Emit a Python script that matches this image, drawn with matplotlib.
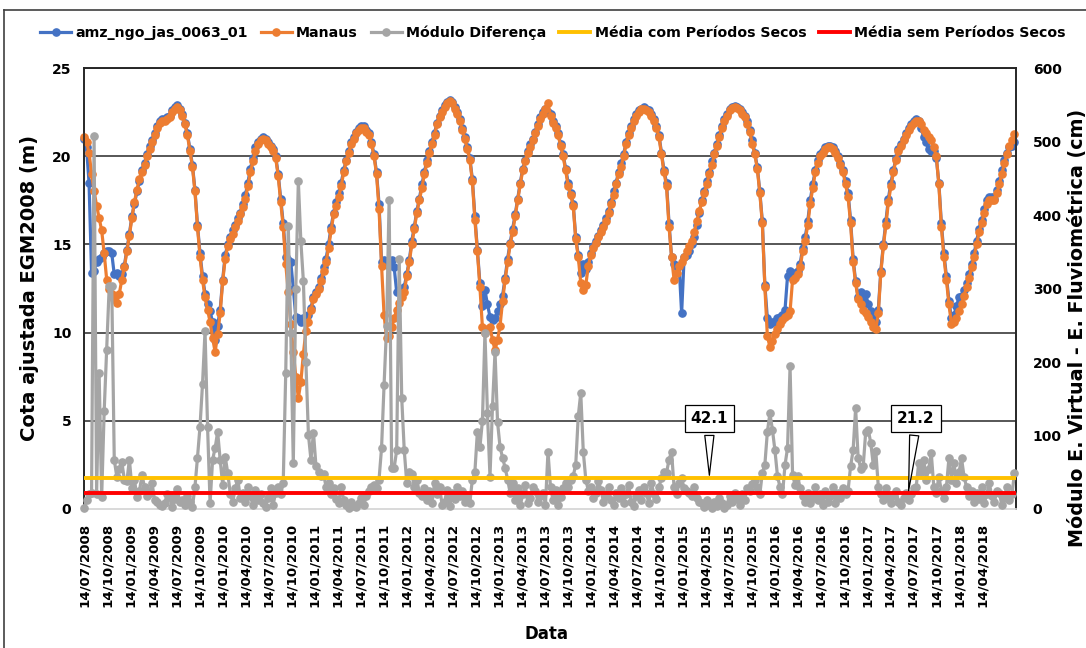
import matplotlib
matplotlib.use("Agg")
import matplotlib.pyplot as plt
from matplotlib.lines import Line2D
import numpy as np
import pandas as pd

# ---------------- data ----------------
start_date = "2008-07-14"   # first sample, ~10-day altimetry cycle
step = "10D"
x_end = "2018-08-27"

manaus = [
    21.1, 20.8, 20.2, 19.0, 18.0, 17.2, 16.5, 15.8, 14.5, 13.0,
    12.5, 12.2, 11.9, 11.7, 12.2, 13.0, 13.7, 14.6, 15.5, 16.5,
    17.4, 18.1, 18.7, 19.1, 19.5, 20.0, 20.4, 20.8, 21.2, 21.6,
    21.9, 22.0, 22.0, 22.1, 22.2, 22.5, 22.7, 22.8, 22.6, 22.3,
    21.8, 21.2, 20.3, 19.4, 18.0, 16.0, 14.3, 13.0, 12.0, 11.3,
    10.6, 9.7, 8.9, 9.9, 11.1, 12.9, 14.2, 14.9, 15.3, 15.6,
    16.0, 16.3, 16.7, 17.1, 17.6, 18.3, 19.1, 19.7, 20.3, 20.7,
    20.9, 21.0, 20.9, 20.7, 20.5, 20.3, 19.9, 18.9, 17.4, 16.0,
    13.9, 12.3, 10.5, 8.9, 7.5, 6.3, 7.2, 8.8, 10.1, 10.6,
    11.3, 11.9, 12.2, 12.5, 12.9, 13.5, 14.0, 14.8, 15.8, 16.7,
    17.2, 17.7, 18.3, 19.1, 19.7, 20.2, 20.7, 21.0, 21.3, 21.5,
    21.6, 21.6, 21.4, 21.2, 20.7, 20.0, 19.0, 17.0, 13.8, 11.0,
    9.7, 9.8, 10.3, 10.8, 11.3, 11.7, 12.0, 12.3, 13.2, 14.0,
    15.0, 15.9, 16.8, 17.5, 18.2, 19.0, 19.6, 20.2, 20.7, 21.2,
    21.8, 22.2, 22.5, 22.8, 23.0, 23.15, 23.0, 22.7, 22.4, 22.0,
    21.5, 21.0, 20.4, 19.8, 18.6, 16.4, 14.6, 12.6, 10.3, 10.0,
    10.2, 10.3, 9.6, 9.0, 9.6, 10.4, 11.8, 13.0, 14.0, 15.0,
    15.7, 16.6, 17.5, 18.4, 19.2, 19.7, 20.2, 20.5, 20.9, 21.3,
    21.7, 22.1, 22.4, 22.7, 23.0, 22.3, 21.9, 21.6, 21.2, 20.6,
    20.0, 19.2, 18.3, 17.8, 17.2, 15.3, 14.3, 12.8, 12.4, 12.7,
    13.8, 14.4, 14.8, 15.1, 15.4, 15.7, 16.0, 16.3, 16.8, 17.3,
    17.8, 18.4, 19.0, 19.4, 20.0, 20.7, 21.2, 21.6, 22.0, 22.3,
    22.5, 22.7, 22.7, 22.6, 22.5, 22.3, 22.0, 21.6, 21.1, 20.1,
    19.1, 18.3, 16.0, 14.3, 13.0, 13.4, 13.8, 14.0, 14.3, 14.6,
    14.9, 15.2, 15.7, 16.3, 16.9, 17.4, 17.9, 18.4, 19.0, 19.5,
    20.1, 20.6, 21.1, 21.6, 22.0, 22.3, 22.6, 22.75, 22.8, 22.75,
    22.6, 22.4, 22.2, 21.8, 21.4, 20.7, 20.1, 19.3, 17.9, 16.2,
    12.6, 9.8, 9.2, 9.5, 9.9, 10.2, 10.5, 10.7, 10.9, 11.0,
    11.2, 13.0, 13.1, 13.3, 13.7, 14.6, 15.2, 16.1, 17.3, 18.2,
    19.1, 19.6, 20.0, 20.2, 20.4, 20.5, 20.5, 20.4, 20.2, 19.9,
    19.5, 19.1, 18.4, 17.7, 16.2, 14.0, 12.8, 11.9, 11.6, 11.3,
    11.1, 10.9, 10.6, 10.3, 10.2, 11.1, 13.4, 14.9, 16.1, 17.4,
    18.3, 19.1, 19.8, 20.3, 20.6, 20.9, 21.2, 21.5, 21.7, 21.9,
    22.0, 22.0, 21.8, 21.5, 21.3, 21.1, 20.9, 20.5, 20.0, 18.4,
    16.0, 14.3, 13.0, 11.6, 10.5, 10.6, 10.8, 11.2, 11.6, 12.1,
    12.6, 13.1, 13.7, 14.3, 15.0, 15.7, 16.2, 16.8, 17.3, 17.5,
    17.5, 17.5, 17.9, 18.4, 19.0, 19.6, 20.1, 20.6, 20.9, 21.25,
]

altimetria = [
    21.0, 20.5, 18.5, 13.4, 13.5, 14.0, 14.2, 14.3, 14.5, 14.6,
    14.6, 14.5, 13.3, 13.4, 13.2, 13.3, 13.8, 14.7, 15.6, 16.6,
    17.3, 18.0, 18.6, 19.2, 19.6, 20.1, 20.6, 20.9, 21.3, 21.7,
    22.0, 22.1, 22.1, 22.2, 22.3, 22.6, 22.8, 22.9, 22.7, 22.4,
    21.9, 21.3, 20.4, 19.5, 18.1, 16.1, 14.5, 13.2, 12.2, 11.6,
    11.2, 10.6, 9.6, 10.4, 11.3, 13.0, 14.4, 15.0, 15.4, 15.8,
    16.1, 16.5, 16.8, 17.3, 17.8, 18.5, 19.3, 19.9, 20.5, 20.8,
    21.0, 21.1, 21.0, 20.8, 20.6, 20.4, 20.0, 19.0, 17.6, 16.2,
    14.3, 14.1, 14.0, 12.5, 10.9, 10.8, 10.6, 10.8, 10.7, 11.0,
    11.4, 12.0, 12.3, 12.6, 13.1, 13.7, 14.2, 15.0, 16.0, 16.8,
    17.4, 17.9, 18.5, 19.2, 19.8, 20.3, 20.8, 21.1, 21.4, 21.6,
    21.7, 21.7, 21.5, 21.3, 20.8, 20.1, 19.1, 17.3, 14.0, 14.1,
    13.9, 13.8, 14.1, 13.7, 12.3, 12.4, 12.5, 12.6, 13.3, 14.1,
    15.2, 16.0, 16.9, 17.6, 18.4, 19.1, 19.8, 20.3, 20.8, 21.3,
    21.9, 22.3, 22.6, 22.9, 23.1, 23.2, 23.1, 22.8, 22.5, 22.1,
    21.6, 21.1, 20.5, 19.9, 18.7, 16.6, 14.7, 12.8, 11.5, 12.4,
    11.6, 10.9, 10.7, 10.8, 11.2, 11.6, 12.1, 13.1, 14.2, 15.1,
    15.9, 16.7, 17.6, 18.5, 19.3, 19.8, 20.3, 20.7, 21.0, 21.4,
    21.8, 22.2, 22.5, 22.7, 22.5, 22.4, 22.0, 21.7, 21.3, 20.7,
    20.1, 19.3, 18.5, 17.9, 17.3, 15.4, 14.4, 13.4, 13.9, 13.6,
    14.0, 14.5, 14.9, 15.2, 15.5, 15.8, 16.1, 16.5, 16.9, 17.4,
    18.0, 18.5, 19.1, 19.6, 20.1, 20.8, 21.3, 21.7, 22.1, 22.4,
    22.6, 22.7, 22.8, 22.7, 22.6, 22.4, 22.1, 21.7, 21.2, 20.2,
    19.2, 18.5, 16.2, 14.3, 13.9, 13.7, 13.8, 11.1, 14.3, 14.4,
    14.6, 15.0, 15.4, 16.1, 16.8, 17.5, 18.0, 18.6, 19.1, 19.7,
    20.2, 20.7, 21.2, 21.7, 22.1, 22.4, 22.7, 22.8, 22.85, 22.8,
    22.7, 22.5, 22.3, 22.0, 21.5, 20.9, 20.2, 19.4, 18.0, 16.3,
    12.7, 10.8, 10.5, 10.6, 10.6, 10.8, 10.9, 11.0, 11.3, 13.2,
    13.5, 13.4, 13.3, 13.5, 13.9, 14.8, 15.4, 16.3, 17.5, 18.4,
    19.2, 19.8, 20.1, 20.3, 20.5, 20.6, 20.6, 20.5, 20.3, 20.0,
    19.6, 19.2, 18.6, 17.9, 16.4, 14.2, 12.9, 12.0, 12.3, 11.9,
    12.2, 11.6, 11.2, 10.8, 10.6, 11.3, 13.5, 15.0, 16.3, 17.6,
    18.5, 19.2, 19.9, 20.4, 20.7, 21.0, 21.3, 21.6, 21.8, 22.0,
    22.1, 22.0, 21.6, 21.1, 20.8, 20.4, 20.3, 20.3, 19.9, 18.5,
    16.2, 14.5, 13.2, 11.8, 10.8, 11.0, 11.5, 12.0, 12.1, 12.4,
    12.8, 13.3, 13.9, 14.5, 15.2, 15.9, 16.4, 17.0, 17.5, 17.7,
    17.7, 17.6, 18.1, 18.6, 19.2, 19.8, 20.2, 20.5, 20.6, 20.8,
]

modulo_diferenca = [
    1, 12, 21, 22, 507, 20, 185, 16, 133, 217,
    303, 303, 67, 44, 55, 64, 40, 38, 67, 29,
    40, 16, 25, 46, 30, 18, 22, 35, 12, 9,
    6, 4, 8, 20, 16, 3, 14, 27, 9, 12,
    5, 18, 10, 3, 30, 70, 112, 170, 242, 112,
    8, 67, 83, 105, 67, 33, 71, 49, 21, 10,
    28, 40, 15, 22, 9, 30, 18, 5, 26, 12,
    20, 8, 3, 15, 28, 6, 22, 30, 20, 35,
    185, 385, 240, 62, 300, 446, 364, 310, 200, 101,
    67, 104, 58, 50, 45, 48, 30, 35, 20, 28,
    14, 8, 30, 12, 5, 2, 10, 4, 3, 8,
    15, 6, 18, 25, 30, 32, 28, 40, 83, 169,
    249, 421, 56, 56, 80, 340, 151, 80, 35, 50,
    48, 30, 40, 22, 18, 28, 12, 25, 8, 35,
    20, 30, 6, 10, 26, 4, 22, 14, 30, 18,
    25, 10, 18, 8, 40, 50, 105, 84, 120, 240,
    130, 44, 140, 214, 118, 84, 70, 56, 40, 22,
    35, 12, 28, 5, 20, 32, 8, 15, 30, 25,
    10, 18, 22, 6, 78, 30, 12, 26, 5, 16,
    28, 35, 30, 40, 45, 60, 126, 158, 78, 40,
    25, 30, 15, 22, 38, 26, 10, 18, 30, 12,
    5, 22, 15, 28, 8, 20, 32, 10, 4, 18,
    26, 12, 30, 22, 8, 36, 20, 14, 30, 42,
    50, 49, 67, 78, 30, 20, 35, 42, 28, 25,
    22, 18, 30, 15, 10, 8, 3, 12, 5, 2,
    10, 4, 15, 8, 2, 6, 18, 10, 22, 14,
    5, 20, 12, 28, 25, 34, 40, 30, 20, 49,
    60, 105, 130, 108, 80, 45, 30, 20, 60, 83,
    194, 46, 33, 45, 28, 18, 10, 22, 8, 15,
    30, 12, 20, 5, 25, 10, 18, 30, 8, 22,
    15, 28, 20, 25, 58, 80, 137, 70, 55, 58,
    105, 108, 90, 60, 79, 30, 20, 12, 28, 15,
    8, 18, 25, 10, 5, 15, 22, 12, 20, 28,
    30, 62, 50, 67, 40, 55, 76, 30, 22, 44,
    25, 15, 30, 69, 40, 62, 35, 50, 69, 44,
    30, 18, 25, 10, 22, 14, 30, 8, 20, 35,
    18, 10, 25, 22, 5, 15, 30, 12, 20, 49,
]

media_com_secos = 42.1
media_sem_secos = 21.2
callout_com = ("2015-04-29", "2015-04-29", 123)   # tip date, box date, box height (cm)
callout_sem = ("2017-06-26", "2017-07-26", 123)

tick_labels = [
    "14/07/2008", "14/10/2008", "14/01/2009", "14/04/2009", "14/07/2009",
    "14/10/2009", "14/01/2010", "14/04/2010", "14/07/2010", "14/10/2010",
    "14/01/2011", "14/04/2011", "14/07/2011", "14/10/2011", "14/01/2012",
    "14/04/2012", "14/07/2012", "14/10/2012", "14/01/2013", "14/04/2013",
    "14/07/2013", "14/10/2013", "14/01/2014", "14/04/2014", "14/07/2014",
    "14/10/2014", "14/01/2015", "14/04/2015", "14/07/2015", "14/10/2015",
    "14/01/2016", "14/04/2016", "14/07/2016", "14/10/2016", "14/01/2017",
    "14/04/2017", "14/07/2017", "14/10/2017", "14/01/2018", "14/04/2018",
]
left_ticks = [0, 5, 10, 15, 20, 25]
right_ticks = [0, 100, 200, 300, 400, 500, 600]

series_names = ["amz_ngo_jas_0063_01", "Manaus", "Módulo Diferença",
                "Média com Períodos Secos", "Média sem Períodos Secos"]

# ---------------- drawing ----------------
plt.rcParams["font.family"] = ["DejaVu Sans"]
plt.rcParams["font.weight"] = "bold"

W, H = 1086, 648
fig = plt.figure(figsize=(W / 100, H / 100), dpi=100)
L, R, T, B = 84, 1016, 68, 509
ax = fig.add_axes([L / W, 1 - B / H, (R - L) / W, (B - T) / H])
ax2 = ax.twinx()

dates = pd.date_range(start_date, periods=len(manaus), freq=step)

c_blue, c_orange, c_gray = "#4472C4", "#ED7D31", "#A5A5A5"
c_yellow, c_red = "#FFC000", "#FF0000"
lw, ms = 2.3, 5.2

ax.plot(dates, altimetria, color=c_blue, lw=lw, marker="o", ms=ms,
        zorder=3, clip_on=False)
ax.plot(dates, manaus, color=c_orange, lw=lw, marker="o", ms=ms,
        zorder=4, clip_on=False)
ax2.plot(dates, modulo_diferenca, color=c_gray, lw=lw, marker="o", ms=ms,
         zorder=3, clip_on=False)
ax2.axhline(media_com_secos, color=c_yellow, lw=2.8, zorder=4)
ax2.axhline(media_sem_secos, color=c_red, lw=2.8, zorder=4)

ax.set_xlim(pd.Timestamp(start_date), pd.Timestamp(x_end))
ax.set_ylim(0, 25)
ax2.set_ylim(0, 600)
ax.set_yticks(left_ticks)
ax2.set_yticks(right_ticks)
tick_dates = pd.to_datetime(tick_labels, format="%d/%m/%Y")
ax.set_xticks(tick_dates)
ax.set_xticklabels(tick_labels, rotation=90, fontsize=9.6, fontweight="bold")

ax.yaxis.grid(True, color="#3A3A3A", lw=1.2)
ax.get_ygridlines()[0].set_visible(False)
ax.set_axisbelow(True)

ax.tick_params(axis="x", length=0, pad=10)
ax.tick_params(axis="y", length=0, pad=9, labelsize=10)
ax2.tick_params(axis="y", length=0, pad=12, labelsize=10)
for lab in ax.get_yticklabels() + ax2.get_yticklabels():
    lab.set_fontweight("bold")

for a in (ax, ax2):
    a.spines["left"].set_color("#262626")
    a.spines["right"].set_color("#262626")
    a.spines["top"].set_color("#262626")
    a.spines["bottom"].set_color("#D9D9D9")
    for s in a.spines.values():
        s.set_linewidth(1.2)

# axis titles
fig.text(30 / W, 1 - 288 / H, "Cota ajustada EGM2008 (m)", rotation=90,
         ha="center", va="center", fontsize=14, fontweight="bold")
fig.text(1077 / W, 1 - 328 / H, "Módulo E. Virtual - E. Fluviométrica (cm)",
         rotation=90, ha="center", va="center", fontsize=13.8, fontweight="bold")
fig.text(546 / W, 1 - 634 / H, "Data", ha="center", va="center",
         fontsize=12, fontweight="bold")

# callouts
for tip_date, box_date, box_y, val in [(*callout_com, media_com_secos),
                                        (*callout_sem, media_sem_secos)]:
    ax2.annotate(f"{val:.1f}", xy=(pd.Timestamp(tip_date), val),
                 xytext=(pd.Timestamp(box_date), box_y),
                 ha="center", va="center", fontsize=11, fontweight="bold",
                 zorder=10,
                 bbox=dict(boxstyle="square,pad=0.4", fc="white", ec="black", lw=0.9),
                 arrowprops=dict(arrowstyle="wedge,tail_width=0.6",
                                 fc="white", ec="black", lw=0.9))

# legend
handles = [
    Line2D([], [], color=c_blue, lw=lw, marker="o", ms=ms),
    Line2D([], [], color=c_orange, lw=lw, marker="o", ms=ms),
    Line2D([], [], color=c_gray, lw=lw, marker="o", ms=ms),
    Line2D([], [], color=c_yellow, lw=2.8),
    Line2D([], [], color=c_red, lw=2.8),
]
fig.legend(handles, series_names, loc="center", bbox_to_anchor=(553 / W, 1 - 33 / H),
           ncol=5, frameon=False, handlelength=2.2,
           handletextpad=0.3, columnspacing=0.9, prop={"weight": "bold", "size": 10.2})

# outer chart border
fig.add_artist(Line2D([4 / W, 1], [1 - 10 / H, 1 - 10 / H], color="#404040", lw=1.2,
                      transform=fig.transFigure))
fig.add_artist(Line2D([4 / W, 4 / W], [0, 1 - 10 / H], color="#404040", lw=1.2,
                      transform=fig.transFigure))

fig.savefig("out.png", dpi=100)
